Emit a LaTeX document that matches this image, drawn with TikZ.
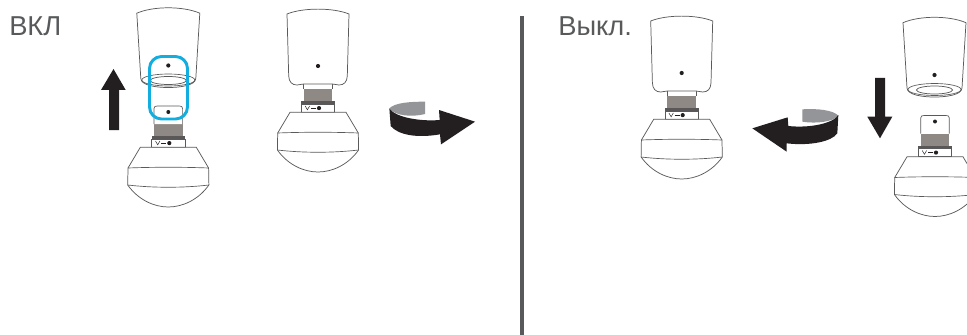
\documentclass[tikz,border=0pt]{standalone}
\usepackage{fontspec}
\setmainfont{Liberation Sans}
\definecolor{inkk}{HTML}{231F20}
\definecolor{lampline}{HTML}{5A5A5A}
\definecolor{neckgrey}{HTML}{8E8984}
\definecolor{ribbon}{HTML}{939598}
\definecolor{ringblue}{HTML}{12AEDF}
\definecolor{divider}{HTML}{58595B}
\tikzset{
  lampedge/.style={draw=lampline,line width=0.55pt,fill=white},
  lampthin/.style={draw=lampline,line width=0.5pt},
  solidarrow/.style={fill=inkk,draw=none},
  ribbonback/.style={fill=ribbon,draw=none},
  heading/.style={font=\fontsize{20.5}{24}\selectfont,text=divider,anchor=base west,inner sep=0pt},
}
\newcommand{\lampbase}[2]{%
\begin{scope}[shift={(#1,#2)}]
  \fill[neckgrey] (-14.3,89) rectangle (14.3,101);
  \fill[inkk!75] (-16.8,101) rectangle (16.8,104.2);
  \draw[lampedge] (-16.8,104.2) rectangle (16.8,112.3);
  \draw[lampedge] (-28,112.3) -- (28,112.3) -- (40.3,133) -- (40.6,150) .. controls (30,165) and (14,172) .. (0,172) .. controls (-14,172) and (-30,165) .. (-40.6,150) -- (-40.3,133) -- cycle;
  \draw[lampthin] (-40.3,133) .. controls (-15,132) and (15,132) .. (40.3,133);
  \draw[lampthin] (-40.6,150) .. controls (-15,153) and (15,153) .. (40.6,150);
  \draw[inkk,line width=0.35pt] (-12.8,106) -- (-10.6,109.8) -- (-8.4,106);
  \draw[inkk,line width=0.9pt] (-7,108.1) -- (-2.2,108.1);
  \fill[inkk] (1,108.1) circle (2.1);
\end{scope}}
\newcommand{\closedcap}[2]{%
\begin{scope}[shift={(#1,#2)}]
  \draw[lampthin] (-14.3,83) -- (-14.3,89) (14.3,83) -- (14.3,89);
  \draw[lampedge] (-31,14) .. controls (-15,7.5) and (15,7.5) .. (31,14) -- (29.3,76) .. controls (29,82) and (26,85) .. (21,85) -- (14.3,84) -- (-14.3,84) -- (-21,85) .. controls (-26,85) and (-29,82) .. (-29.3,76) -- cycle;
  \fill[inkk] (0,66) circle (2.1);
\end{scope}}
\newcommand{\plug}[2]{%
\begin{scope}[shift={(#1,#2)}]
  \draw[lampthin,fill=white] (-14.3,89) -- (-14.3,73.5) .. controls (-14.3,71.5) and (-13,71) .. (-11,71) -- (11,71) .. controls (13,71) and (14.3,71.5) .. (14.3,73.5) -- (14.3,89);
  \fill[inkk] (0,77) circle (2);
\end{scope}}
\newcommand{\opencap}[2]{%
\begin{scope}[shift={(#1,#2)}]
  \draw[lampedge] (-31.5,22.7) .. controls (-15,15.5) and (15,15.5) .. (31.5,22.7) -- (27.5,88) .. controls (27,95) and (12,97) .. (0,97) .. controls (-12,97) and (-27,95) .. (-27.5,88) -- cycle;
  \draw[lampthin] (0,89.5) ellipse (26.5 and 6);
  \draw[lampedge] (0,90) ellipse (18 and 4);
  \fill[inkk] (0,75) circle (2.1);
\end{scope}}
\begin{document}
\begin{tikzpicture}[x=0.75pt,y=-0.75pt]
\useasboundingbox (0,0) rectangle (967,335);
\clip (0,0) rectangle (967,335);
\fill[white] (0,0) rectangle (967,335);

\node[heading] (labelon) at (9,36) {ВКЛ};
\node[heading] (labeloff) at (558,36) {Выкл.};
\fill[divider] (520,16) rectangle (524,335);

% first lamp: apart
\opencap{168.3}{-9.5}
\lampbase{168.3}{35}
\plug{168.3}{35}
\fill[solidarrow] (109,130) -- (119,130) -- (119,90) -- (125.7,90) -- (113.5,69) -- (101,90) -- (109,90) -- cycle;
\draw[ringblue,line width=2.2pt,rounded corners=9pt] (149.5,56.5) rectangle (187.5,119);

% second lamp: joined
\lampbase{318}{0}
\closedcap{318}{0}

% clockwise ribbon arrow
\begin{scope}[shift={(270,0)},x=0.25pt,y=-0.25pt]
  \fill[ribbonback] (465,305) .. controls (420,305) and (375,308) .. (358,325) .. controls (375,348) and (425,352) .. (465,342) -- cycle;
  \fill[solidarrow] (358,325) .. controls (375,352) and (450,365) .. (509,360) -- (507,330) -- (615,365) -- (513,433) -- (510,403) .. controls (440,415) and (385,405) .. (362,378) -- cycle;
\end{scope}

% third lamp: joined
\lampbase{681.7}{7}
\closedcap{681.7}{7}

% counter-clockwise ribbon arrow
\begin{scope}[shift={(630,0)},x=0.25pt,y=-0.25pt]
  \fill[ribbonback] (517,328) .. controls (560,325) and (610,330) .. (625,347) .. controls (610,365) and (560,372) .. (517,365) -- cycle;
  \fill[solidarrow] (625,345) .. controls (610,370) and (540,385) .. (475,378) -- (473,352) -- (367,385) -- (470,455) -- (470,430) .. controls (540,438) and (605,425) .. (622,400) -- cycle;
\end{scope}

% fourth lamp: apart
\opencap{934.5}{0}
\lampbase{935}{44.5}
\plug{935}{44.5}
\fill[solidarrow] (875,78) -- (885,78) -- (885,116.7) -- (892.3,116.7) -- (880,138.3) -- (867.3,116.7) -- (875,116.7) -- cycle;
\end{tikzpicture}
\end{document}
